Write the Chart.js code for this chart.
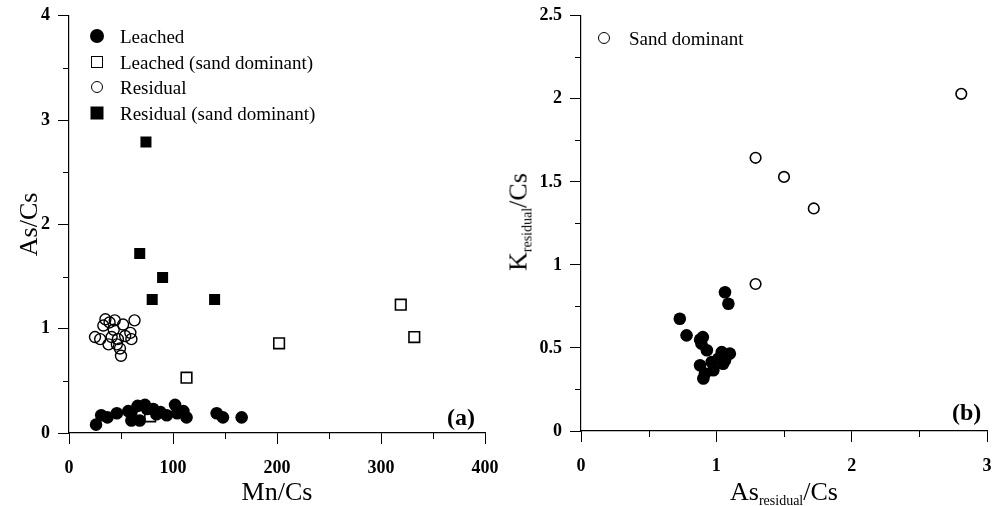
<!DOCTYPE html>
<html>
<head>
<meta charset="utf-8">
<script src="https://cdn.jsdelivr.net/npm/chart.js@4.4.1/dist/chart.umd.min.js"></script>
<style>
body { margin:0; background:#fff; }
#wrap { position:relative; width:994px; height:506px; overflow:hidden; font-family:'Liberation Serif', serif; color:#000; }
.pane { position:absolute; top:-3px; }
.lbl { position:absolute; white-space:nowrap; line-height:1; }
.mk { position:absolute; box-sizing:border-box; transform:translate(-50%,-50%); }
.legtxt { position:absolute; white-space:nowrap; line-height:1; font-size:19px; transform:translateY(-50%); }
sub { font-size:14px; vertical-align:-5px; }
</style>
</head>
<body>
<div id="wrap">
  <div class="pane" style="left:0;width:520px;height:509px"><canvas id="chartA" width="520" height="509"></canvas></div>
  <div class="pane" style="left:497px;width:510px;height:509px"><canvas id="chartB" width="510" height="509"></canvas></div>
  <div id="legA"></div>
  <div id="legB"></div>
  <div class="lbl" style="left:447px;top:405px;font-size:24px;font-weight:bold">(a)</div>
  <div class="lbl" style="left:952px;top:400px;font-size:24px;font-weight:bold">(b)</div>
  <div class="lbl" style="left:784px;top:493px;font-size:26px;transform:translate(-50%,-50%)">As<sub>residual</sub>/Cs</div>
  <div class="lbl" style="left:520px;top:222px;font-size:26px;transform:translate(-50%,-50%) rotate(-90deg)">K<sub>residual</sub>/Cs</div>
</div>
<script>
// panel (a): As/Cs vs Mn/Cs
const leachedX = [26, 31, 37, 46, 57, 60, 60, 66, 68, 73, 75, 81, 84, 88, 94, 102, 104, 110, 113, 142, 148, 166];
const leachedY = [0.08, 0.17, 0.15, 0.19, 0.21, 0.12, 0.2, 0.26, 0.12, 0.27, 0.23, 0.23, 0.18, 0.2, 0.17, 0.27, 0.19, 0.21, 0.15, 0.19, 0.15, 0.15];
const leachedSandX = [78, 113, 202, 319, 332];
const leachedSandY = [0.16, 0.53, 0.86, 1.23, 0.92];
const residualX = [35, 39, 33, 44, 52, 63, 25, 30, 41, 47, 54, 59, 60, 46, 49, 50, 38, 43];
const residualY = [1.09, 1.06, 1.03, 1.08, 1.04, 1.08, 0.92, 0.9, 0.92, 0.9, 0.93, 0.96, 0.9, 0.85, 0.81, 0.74, 0.85, 0.99];
const residualSandX = [74, 68, 90, 80, 140];
const residualSandY = [2.79, 1.72, 1.49, 1.28, 1.28];
const seriesNamesA = ['Leached', 'Leached (sand dominant)', 'Residual', 'Residual (sand dominant)'];

// panel (b): K_residual/Cs vs As_residual/Cs
const fineX = [0.73, 0.78, 0.88, 0.9, 0.89, 0.93, 1.04, 1.1, 1.015, 1.064, 0.966, 0.88, 0.978, 0.916, 0.904, 1.05, 1.064, 1.089];
const fineY = [0.676, 0.576, 0.55, 0.565, 0.526, 0.486, 0.475, 0.466, 0.436, 0.426, 0.415, 0.396, 0.366, 0.346, 0.316, 0.405, 0.835, 0.766];
const sandX = [1.29, 1.29, 1.5, 1.72, 2.81];
const sandY = [0.885, 1.645, 1.53, 1.34, 2.03];
const seriesNamesB = ['Sand dominant'];

const serif = 'Liberation Serif, Times New Roman, serif';
const pts = (xs, ys) => xs.map((x, i) => ({x: x, y: ys[i]}));
const onStep = (v, step) => Math.abs(v / step - Math.round(v / step)) < 1e-6;

function minorTicks(xStep, yStep) {
  return {
    id: 'minorTicks',
    afterDraw(chart) {
      const ctx = chart.ctx;
      ctx.save();
      ctx.strokeStyle = '#000';
      ctx.lineWidth = 1;
      const sx = chart.scales.x, sy = chart.scales.y;
      sx.ticks.forEach(t => {
        if (onStep(t.value, xStep)) return;
        const p = Math.round(sx.getPixelForValue(t.value)) + 0.5;
        ctx.beginPath(); ctx.moveTo(p, sx.top); ctx.lineTo(p, sx.top + 6); ctx.stroke();
      });
      sy.ticks.forEach(t => {
        if (onStep(t.value, yStep)) return;
        const p = Math.round(sy.getPixelForValue(t.value)) + 0.5;
        ctx.beginPath(); ctx.moveTo(sy.right, p); ctx.lineTo(sy.right - 6, p); ctx.stroke();
      });
      ctx.restore();
    }
  };
}

function axis(min, max, step, major, fmt, size, pad, title) {
  return {
    type: 'linear', min: min, max: max,
    border: {display: true, color: '#000', width: 1.2},
    grid: {
      drawOnChartArea: false, drawTicks: true, tickLength: 11, tickWidth: 1,
      tickColor: c => onStep(c.tick.value, major) ? '#000' : 'rgba(0,0,0,0)'
    },
    ticks: {
      stepSize: step, autoSkip: false, padding: pad, color: '#000',
      font: {family: serif, size: 18, weight: 'bold'},
      callback: v => onStep(v, major) ? fmt(v) : ''
    },
    title: title,
    afterFit: s => { if (s.isHorizontal()) s.height = size; else s.width = size; }
  };
}

const common = {
  responsive: false,
  animation: false,
  events: [],
  plugins: {legend: {display: false}, tooltip: {enabled: false}}
};

new Chart(document.getElementById('chartA'), {
  type: 'scatter',
  data: {
    datasets: [
      {label: seriesNamesA[0], data: pts(leachedX, leachedY), pointStyle: 'circle', pointRadius: 6.3,
       backgroundColor: '#000', borderColor: '#000', borderWidth: 0},
      {label: seriesNamesA[1], data: pts(leachedSandX, leachedSandY), pointStyle: 'rect', pointRadius: 7.5,
       backgroundColor: '#fff', borderColor: '#000', borderWidth: 1.6},
      {label: seriesNamesA[2], data: pts(residualX, residualY), pointStyle: 'circle', pointRadius: 5.5,
       backgroundColor: 'rgba(255,255,255,0)', borderColor: '#000', borderWidth: 1.4},
      {label: seriesNamesA[3], data: pts(residualSandX, residualSandY), pointStyle: 'rect', pointRadius: 7.8,
       backgroundColor: '#000', borderColor: '#000', borderWidth: 0}
    ]
  },
  options: Object.assign({}, common, {
    layout: {padding: {left: 0, top: 10, right: 35, bottom: 0}},
    scales: {
      x: axis(0, 400, 50, 100, v => String(Math.round(v)), 73, 14,
        {display: true, text: 'Mn/Cs', color: '#000', font: {family: serif, size: 26, lineHeight: 1}, padding: {top: 0, bottom: 0}}),
      y: axis(0, 4, 0.5, 1, v => String(Math.round(v)), 69, 8,
        {display: true, text: 'As/Cs', color: '#000', font: {family: serif, size: 26, lineHeight: 1}, padding: {top: 17, bottom: 0}})
    }
  }),
  plugins: [minorTicks(100, 1)]
});

new Chart(document.getElementById('chartB'), {
  type: 'scatter',
  data: {
    datasets: [
      {label: 'Fine', data: pts(fineX, fineY), pointStyle: 'circle', pointRadius: 6.3,
       backgroundColor: '#000', borderColor: '#000', borderWidth: 0},
      {label: seriesNamesB[0], data: pts(sandX, sandY), pointStyle: 'circle', pointRadius: 5.3,
       backgroundColor: '#fff', borderColor: '#000', borderWidth: 1.6}
    ]
  },
  options: Object.assign({}, common, {
    layout: {padding: {left: 0, top: 10, right: 20, bottom: 0}},
    scales: {
      x: axis(0, 3, 0.5, 1, v => String(Math.round(v)), 75, 14, {display: false}),
      y: axis(0, 2.5, 0.25, 0.5, v => String(Math.round(v * 2) / 2), 84, 8, {display: false})
    }
  }),
  plugins: [minorTicks(1, 0.5)]
});

// legends drawn as html next to the plot area
const markers = {
  dot: 'width:14px;height:14px;border-radius:50%;background:#000',
  openSquare: 'width:12px;height:12px;border:1.6px solid #000',
  openCircle: 'width:12px;height:12px;border:1.6px solid #000;border-radius:50%',
  square: 'width:13px;height:13px;background:#000'
};
function legend(el, names, kinds, mx, tx, y0, dy) {
  let html = '';
  names.forEach((n, i) => {
    const y = y0 + i * dy;
    html += '<div class="mk" style="left:' + mx + 'px;top:' + y + 'px;' + markers[kinds[i]] + '"></div>';
    html += '<div class="legtxt" style="left:' + tx + 'px;top:' + y + 'px">' + n + '</div>';
  });
  document.getElementById(el).innerHTML = html;
}
legend('legA', seriesNamesA, ['dot', 'openSquare', 'openCircle', 'square'], 97, 120, 36, 25.6);
legend('legB', seriesNamesB, ['openCircle'], 604, 629, 38, 25);
</script>
</body>
</html>
